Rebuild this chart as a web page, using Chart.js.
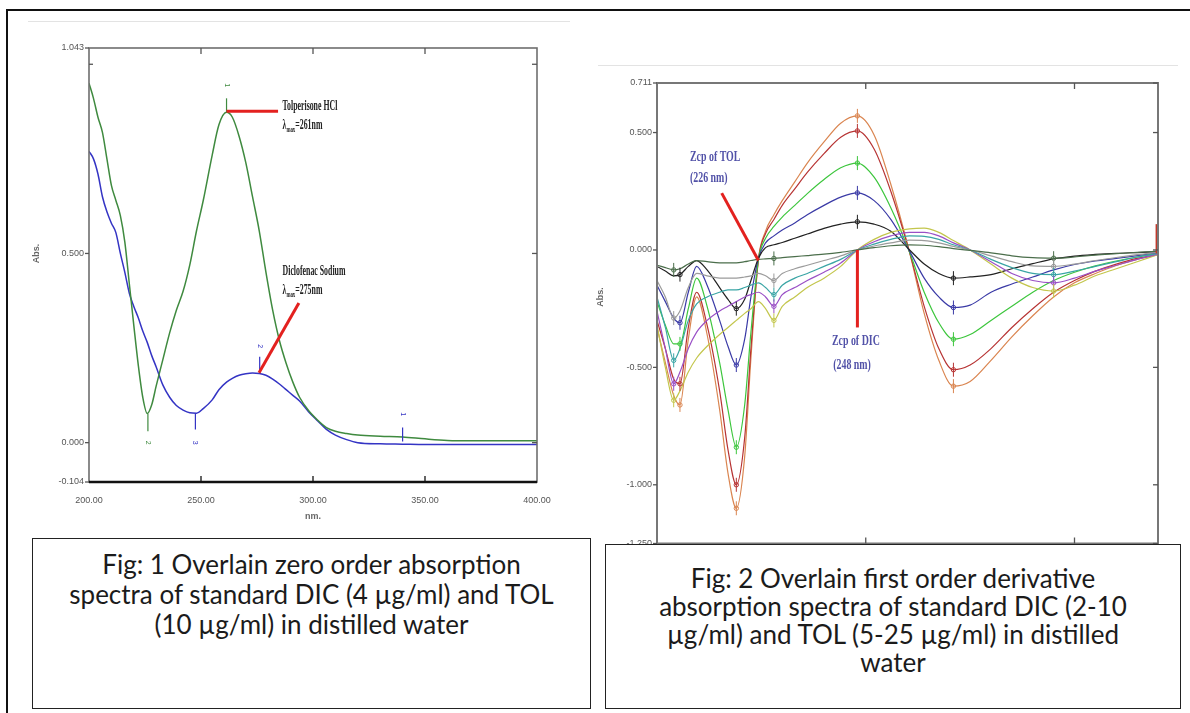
<!DOCTYPE html>
<html>
<head>
<meta charset="utf-8">
<script src="https://cdn.jsdelivr.net/npm/chart.js@4.4.1/dist/chart.umd.min.js"></script>
<style>
  html, body { margin: 0; padding: 0; background: #fff; }
  body { width: 1190px; height: 713px; position: relative; overflow: hidden; }
  #frame { position: absolute; left: 6px; top: 9px; width: 1200px; height: 720px; border-left: 2px solid #111; border-top: 2px solid #111; }
  .rule { position: absolute; height: 1px; background: #e3e3e3; }
  canvas { position: absolute; }
  .cap { position: absolute; background: #fff; border: 1.5px solid #222; box-sizing: border-box; text-align: center;
         color: #1b1b1b; font-family: Lato, "Noto Sans", sans-serif; font-size: 26px; }
</style>
</head>
<body>
<div id="frame"></div>
<div class="rule" style="left:28px;top:21px;width:542px"></div>
<div class="rule" style="left:598px;top:65px;width:580px"></div>
<canvas id="c1" width="590" height="530" style="left:0;top:0"></canvas>
<canvas id="c2" width="600" height="560" style="left:590px;top:0"></canvas>
<div class="cap" style="left:32px;top:538px;width:559px;height:171px;padding-top:10px;line-height:30px">Fig: 1 Overlain zero order absorption<br>spectra of standard DIC (4 µg/ml) and TOL<br>(10 µg/ml) in distilled water</div>
<div class="cap" style="left:605px;top:544px;width:576px;height:165px;padding-top:19px;line-height:28px">Fig: 2 Overlain first order derivative<br>absorption spectra of standard DIC (2-10<br>µg/ml) and TOL (5-25 µg/ml) in distilled<br>water</div>

<script>
// ---- Fig 1: zero order spectra (nm vs Abs.)
const nm1 = [200, 202, 204, 206, 208, 210, 212, 214, 216, 218, 220, 222, 224, 226,
  228, 230, 233, 236, 239, 242, 245, 248, 251, 255, 258, 261.4,
  264, 267, 270, 273, 276, 279, 282, 285, 288, 291,
  294, 298, 302, 306, 310, 315, 320,
  330, 340, 350, 360, 370, 380, 390, 400];
const tolAbs = [0.95, 0.91, 0.86, 0.82, 0.75, 0.68, 0.64, 0.6, 0.53, 0.42, 0.31, 0.205, 0.12, 0.077,
  0.1, 0.15, 0.22, 0.29, 0.35, 0.4, 0.47, 0.56, 0.64, 0.76, 0.84, 0.873,
  0.86, 0.81, 0.74, 0.65, 0.56, 0.45, 0.35, 0.27, 0.21, 0.16,
  0.12, 0.085, 0.06, 0.04, 0.03, 0.024, 0.02,
  0.017, 0.015, 0.01, 0.006, 0.005, 0.005, 0.005, 0.005];
const dicAbs = [0.77, 0.75, 0.71, 0.65, 0.61, 0.58, 0.555, 0.5, 0.45, 0.395, 0.36, 0.33, 0.295, 0.265,
  0.23, 0.2, 0.152, 0.12, 0.098, 0.086, 0.079, 0.078, 0.09, 0.113, 0.14, 0.16,
  0.17, 0.178, 0.182, 0.184, 0.183, 0.178, 0.168, 0.155, 0.14, 0.125,
  0.11, 0.082, 0.058, 0.035, 0.02, 0.008, 0.0,
  -0.003, -0.004, -0.005, -0.005, -0.005, -0.005, -0.005, -0.005];
const xTicks1 = [200, 250, 300, 350, 400];
const yTicks1 = [-0.104, 0, 0.5, 1.043];

// peak pick marks on fig 1
const markNm1 = [261.4, 226.3, 247.5, 276.2, 340];
const markFrom1 = [0.873, 0.076, 0.078, 0.183, 0.003];
const markTo1 = [0.91, 0.03, 0.035, 0.227, 0.04];
const markText1 = ['1', '2', '3', '2', '1'];
const markTextY1 = [0.945, 0.0, 0.0, 0.255, 0.075];
const markSeries1 = [0, 0, 1, 1, 1];

// ---- Fig 2: first derivative spectra
const nm2 = [200, 202, 204, 205.5, 207.5, 209.5, 212, 215, 217, 219, 221, 222.5,
  224.3, 226, 228, 230, 233, 236, 240, 244, 248, 252, 256, 260.5,
  264, 267.5, 271, 275, 280, 285, 290, 295, 300, 305, 310, 315, 320];
const tol5 = [-0.07, -0.09, -0.11, -0.105, -0.07, -0.045, -0.085, -0.16, -0.21, -0.25, -0.21, -0.13,
  -0.035, 0.01, 0.022, 0.032, 0.05, 0.068, 0.092, 0.11, 0.12, 0.11, 0.08, 0.0,
  -0.06, -0.1, -0.12, -0.115, -0.105, -0.08, -0.058, -0.038, -0.026, -0.019, -0.014, -0.011, -0.008];
const tol10 = [-0.15, -0.22, -0.29, -0.31, -0.18, -0.07, -0.15, -0.3, -0.41, -0.49, -0.38, -0.2,
  -0.035, 0.03, 0.06, 0.085, 0.115, 0.15, 0.19, 0.225, 0.243, 0.21, 0.13, -0.005,
  -0.12, -0.2, -0.245, -0.235, -0.18, -0.145, -0.115, -0.085, -0.062, -0.047, -0.036, -0.024, -0.012];
const tol15 = [-0.22, -0.32, -0.4, -0.4, -0.25, -0.12, -0.24, -0.48, -0.68, -0.84, -0.66, -0.35,
  -0.04, 0.05, 0.1, 0.14, 0.19, 0.24, 0.3, 0.35, 0.37, 0.31, 0.18, -0.01,
  -0.18, -0.31, -0.38, -0.36, -0.3, -0.24, -0.18, -0.13, -0.095, -0.068, -0.047, -0.03, -0.015];
const tol20 = [-0.3, -0.42, -0.55, -0.57, -0.33, -0.18, -0.32, -0.6, -0.85, -1.0, -0.8, -0.42,
  -0.04, 0.07, 0.13, 0.19, 0.26, 0.33, 0.41, 0.48, 0.507, 0.43, 0.25, -0.01,
  -0.24, -0.42, -0.51, -0.49, -0.42, -0.33, -0.25, -0.18, -0.13, -0.09, -0.06, -0.036, -0.02];
const tol25 = [-0.33, -0.48, -0.62, -0.66, -0.38, -0.2, -0.36, -0.68, -0.95, -1.1, -0.88, -0.46,
  -0.04, 0.08, 0.15, 0.21, 0.29, 0.37, 0.46, 0.54, 0.571, 0.49, 0.28, -0.01,
  -0.27, -0.47, -0.58, -0.56, -0.47, -0.37, -0.28, -0.2, -0.14, -0.1, -0.066, -0.04, -0.02];
const dic2 = [-0.065, -0.075, -0.085, -0.08, -0.06, -0.045, -0.05, -0.055, -0.055, -0.055, -0.05, -0.045,
  -0.04, -0.038, -0.036, -0.033, -0.028, -0.024, -0.018, -0.01, 0.0, 0.01, 0.018, 0.022,
  0.02, 0.014, 0.006, -0.002, -0.012, -0.025, -0.033, -0.035, -0.03, -0.022, -0.016, -0.01, -0.005];
const dic4 = [-0.13, -0.2, -0.29, -0.26, -0.16, -0.1, -0.11, -0.12, -0.12, -0.12, -0.115, -0.11,
  -0.1, -0.11, -0.13, -0.1, -0.08, -0.065, -0.045, -0.025, 0.0, 0.017, 0.03, 0.042,
  0.04, 0.03, 0.015, 0.0, -0.025, -0.05, -0.068, -0.07, -0.06, -0.045, -0.032, -0.02, -0.01];
const dic6 = [-0.2, -0.33, -0.47, -0.42, -0.3, -0.23, -0.2, -0.18, -0.17, -0.17, -0.16, -0.15,
  -0.14, -0.16, -0.19, -0.15, -0.12, -0.1, -0.07, -0.04, 0.0, 0.025, 0.045, 0.06,
  0.058, 0.045, 0.022, 0.0, -0.04, -0.075, -0.1, -0.105, -0.09, -0.07, -0.05, -0.03, -0.015];
const dic8 = [-0.26, -0.42, -0.57, -0.52, -0.42, -0.35, -0.3, -0.26, -0.24, -0.22, -0.2, -0.19,
  -0.18, -0.2, -0.24, -0.19, -0.16, -0.13, -0.095, -0.055, 0.0, 0.035, 0.06, 0.075,
  0.075, 0.06, 0.03, 0.0, -0.05, -0.1, -0.13, -0.14, -0.12, -0.09, -0.065, -0.04, -0.018];
const dic10 = [-0.32, -0.5, -0.64, -0.6, -0.52, -0.46, -0.41, -0.36, -0.33, -0.3, -0.27, -0.25,
  -0.22, -0.25, -0.3, -0.24, -0.2, -0.16, -0.12, -0.07, 0.0, 0.045, 0.075, 0.09,
  0.093, 0.075, 0.04, 0.0, -0.06, -0.12, -0.16, -0.175, -0.15, -0.11, -0.08, -0.05, -0.02];
const xTicks2 = [200, 250, 300, 320];
const yTicks2 = [-1.25, -1, -0.5, 0, 0.5, 0.711];
const tolMarkIdx = [3, 9, 20, 26];
const dicMarkIdx = [2, 14, 31];
// end-of-scan spike at the right edge
const spikeNm = 319.6, spikeFrom = -0.015, spikeTo = 0.11;

const pts = (xs, ys) => xs.map((x, i) => ({ x: x, y: ys[i] }));
const tickFont = { family: '"Liberation Sans", Arial, sans-serif', size: 9 };

function seg(ctx, x1, y1, x2, y2) {
  ctx.beginPath(); ctx.moveTo(x1, y1); ctx.lineTo(x2, y2); ctx.stroke();
}
function serifText(ctx, str, x, y, size, color, sx) {
  ctx.save();
  ctx.translate(x, y);
  ctx.scale(sx, 1);
  ctx.font = 'bold ' + size + 'px "Liberation Serif", serif';
  ctx.fillStyle = color;
  ctx.textBaseline = 'middle';
  ctx.fillText(str, 0, 0);
  const w = ctx.measureText(str).width * sx;
  ctx.restore();
  return w;
}
function lambdaText(ctx, tail, x, y, size, color, sx) {
  let w = serifText(ctx, 'λ', x, y, size, color, sx);
  w += serifText(ctx, 'max', x + w, y + size * 0.28, size * 0.62, color, sx);
  serifText(ctx, tail, x + w, y, size, color, sx);
}
function rotText(ctx, str, x, y, color) {
  ctx.save();
  ctx.translate(x, y);
  ctx.rotate(Math.PI / 2);
  ctx.font = '7px "Liberation Sans", sans-serif';
  ctx.fillStyle = color;
  ctx.textAlign = 'center';
  ctx.textBaseline = 'middle';
  ctx.fillText(str, 0, 0);
  ctx.restore();
}
function axisTitle(ctx, str, x, y, rot) {
  ctx.save();
  ctx.translate(x, y);
  if (rot) ctx.rotate(-Math.PI / 2);
  ctx.font = 'bold 9px "Liberation Sans", sans-serif';
  ctx.fillStyle = '#666';
  ctx.textAlign = 'center';
  ctx.textBaseline = 'middle';
  ctx.fillText(str, 0, 0);
  ctx.restore();
}

const colors1 = ['#3f8a3f', '#3434c4'];

const fig1Deco = {
  id: 'fig1Deco',
  afterDatasetsDraw(chart) {
    const { ctx, chartArea: a, scales: { x, y } } = chart;
    ctx.save();
    // frame
    ctx.strokeStyle = '#6e6e6e'; ctx.lineWidth = 1.6;
    ctx.strokeRect(a.left, a.top, a.right - a.left, a.bottom - a.top);
    ctx.strokeStyle = '#111'; ctx.lineWidth = 2.6;
    seg(ctx, a.left, a.bottom, a.right, a.bottom);
    ctx.lineWidth = 1.3;
    xTicks1.slice(1, -1).forEach(v => {
      const px = x.getPixelForValue(v);
      ctx.strokeStyle = '#111'; seg(ctx, px, a.bottom, px, a.bottom - 6);
      ctx.strokeStyle = '#555'; seg(ctx, px, a.top, px, a.top + 6);
    });
    ctx.strokeStyle = '#555';
    yTicks1.forEach(v => { const py = y.getPixelForValue(v); seg(ctx, a.left - 4, py, a.left, py); });
    [0, 0.5, 1.0].forEach(v => {
      const py = y.getPixelForValue(v);
      seg(ctx, a.right - 5, py, a.right, py);
      if (v === 1.0) seg(ctx, a.left, py, a.left + 4, py);
    });
    // peak pick marks
    markNm1.forEach((n, i) => {
      const c = colors1[markSeries1[i]];
      const px = x.getPixelForValue(n);
      ctx.strokeStyle = c; ctx.lineWidth = 1.2;
      seg(ctx, px, y.getPixelForValue(markFrom1[i]), px, y.getPixelForValue(markTo1[i]));
      rotText(ctx, markText1[i], px, y.getPixelForValue(markTextY1[i]), c);
    });
    // red pointers
    ctx.strokeStyle = '#e3211f'; ctx.lineWidth = 3;
    seg(ctx, x.getPixelForValue(261.4), y.getPixelForValue(0.876), x.getPixelForValue(284.4), y.getPixelForValue(0.876));
    seg(ctx, x.getPixelForValue(293.7), y.getPixelForValue(0.369), x.getPixelForValue(275.9), y.getPixelForValue(0.185));
    const lx = x.getPixelForValue(286.4);
    serifText(ctx, 'Tolperisone HCl', lx, y.getPixelForValue(0.889), 14, '#222', 0.56);
    lambdaText(ctx, '=261nm', lx, y.getPixelForValue(0.838), 14, '#222', 0.56);
    serifText(ctx, 'Diclofenac Sodium', lx, y.getPixelForValue(0.453), 14, '#222', 0.56);
    lambdaText(ctx, '=275nm', lx, y.getPixelForValue(0.402), 14, '#222', 0.56);
    axisTitle(ctx, 'Abs.', 37, y.getPixelForValue(0.5), true);
    axisTitle(ctx, 'nm.', x.getPixelForValue(300), 517, false);
    ctx.restore();
  }
};

new Chart(document.getElementById('c1'), {
  type: 'line',
  data: {
    datasets: [
      { label: 'Tolperisone HCl', data: pts(nm1, tolAbs), borderColor: colors1[0] },
      { label: 'Diclofenac Sodium', data: pts(nm1, dicAbs), borderColor: colors1[1] }
    ]
  },
  options: {
    responsive: false, animation: false, devicePixelRatio: 1,
    layout: { padding: { left: 29, right: 53, top: 48, bottom: 8 } },
    elements: { point: { radius: 0 }, line: { borderWidth: 1.5, cubicInterpolationMode: 'monotone' } },
    plugins: { legend: { display: false }, tooltip: { enabled: false } },
    scales: {
      x: {
        type: 'linear', min: 200, max: 400,
        afterBuildTicks: s => { s.ticks = xTicks1.map(v => ({ value: v })); },
        afterFit: s => { s.height = 40; },
        ticks: { callback: v => v.toFixed(2), font: tickFont, color: '#555', padding: 13, autoSkip: false, maxRotation: 0 },
        grid: { display: false, drawTicks: false }, border: { display: false }
      },
      y: {
        min: -0.104, max: 1.043,
        afterBuildTicks: s => { s.ticks = yTicks1.map(v => ({ value: v })); },
        afterFit: s => { s.width = 60; },
        ticks: { callback: v => v.toFixed(3), font: tickFont, color: '#555', padding: 5, autoSkip: false },
        grid: { display: false, drawTicks: false }, border: { display: false }
      }
    }
  },
  plugins: [fig1Deco]
});

// ---- Fig 2
const series2 = [
  { name: 'DIC 2', vals: dic2, color: '#4b6e4b', tol: false },
  { name: 'DIC 4', vals: dic4, color: '#9b9b9b', tol: false },
  { name: 'DIC 6', vals: dic6, color: '#3aa5a5', tol: false },
  { name: 'DIC 8', vals: dic8, color: '#9a50c6', tol: false },
  { name: 'DIC 10', vals: dic10, color: '#c3c64c', tol: false },
  { name: 'TOL 5', vals: tol5, color: '#222222', tol: true },
  { name: 'TOL 10', vals: tol10, color: '#3a3aa6', tol: true },
  { name: 'TOL 15', vals: tol15, color: '#3dc63d', tol: true },
  { name: 'TOL 20', vals: tol20, color: '#b73434', tol: true },
  { name: 'TOL 25', vals: tol25, color: '#da8550', tol: true }
];

const fig2Deco = {
  id: 'fig2Deco',
  afterDatasetsDraw(chart) {
    const { ctx, chartArea: a, scales: { x, y } } = chart;
    ctx.save();
    // small peak-pick marks on the curves
    series2.forEach(s => {
      ctx.strokeStyle = s.color; ctx.lineWidth = 1;
      (s.tol ? tolMarkIdx : dicMarkIdx).forEach(i => {
        const px = x.getPixelForValue(nm2[i]), py = y.getPixelForValue(s.vals[i]);
        seg(ctx, px, py - 7, px, py + 7);
        ctx.beginPath(); ctx.arc(px, py, 2.2, 0, Math.PI * 2); ctx.stroke();
      });
    });
    ctx.lineWidth = 1.5;
    ctx.strokeStyle = '#c0392b';
    seg(ctx, x.getPixelForValue(spikeNm), y.getPixelForValue(spikeFrom), x.getPixelForValue(spikeNm), y.getPixelForValue(spikeTo));
    // frame
    ctx.strokeStyle = '#777'; ctx.lineWidth = 2;
    ctx.strokeRect(a.left, a.top, a.right - a.left, a.bottom - a.top);
    ctx.lineWidth = 1.3; ctx.strokeStyle = '#555';
    [250, 300].forEach(v => {
      const px = x.getPixelForValue(v);
      seg(ctx, px, a.top, px, a.top + 6);
      seg(ctx, px, a.bottom, px, a.bottom - 6);
    });
    yTicks2.forEach(v => {
      const py = y.getPixelForValue(v);
      seg(ctx, a.left - 4, py, a.left, py);
      seg(ctx, a.right - 5, py, a.right, py);
    });
    // zero crossing pointers
    ctx.strokeStyle = '#e3211f'; ctx.lineWidth = 3;
    seg(ctx, x.getPixelForValue(215.5), y.getPixelForValue(0.242), x.getPixelForValue(224.3), y.getPixelForValue(-0.045));
    seg(ctx, x.getPixelForValue(248), y.getPixelForValue(0.0), x.getPixelForValue(248), y.getPixelForValue(-0.33));
    const ink = '#5252a8';
    serifText(ctx, 'Zcp of TOL', x.getPixelForValue(207.9), y.getPixelForValue(0.395), 15, ink, 0.66);
    serifText(ctx, '(226 nm)', x.getPixelForValue(207.9), y.getPixelForValue(0.305), 15, ink, 0.66);
    serifText(ctx, 'Zcp of DIC', x.getPixelForValue(241.9), y.getPixelForValue(-0.39), 15, ink, 0.66);
    serifText(ctx, '(248 nm)', x.getPixelForValue(242.2), y.getPixelForValue(-0.49), 15, ink, 0.66);
    axisTitle(ctx, 'Abs.', 11, y.getPixelForValue(-0.2), true);
    ctx.restore();
  }
};

new Chart(document.getElementById('c2'), {
  type: 'line',
  data: {
    datasets: series2.map(s => ({ label: s.name, data: pts(nm2, s.vals), borderColor: s.color }))
  },
  options: {
    responsive: false, animation: false, devicePixelRatio: 1,
    layout: { padding: { left: 17, right: 32, top: 83, bottom: 16.5 } },
    elements: { point: { radius: 0 }, line: { borderWidth: 1.2, cubicInterpolationMode: 'monotone' } },
    plugins: { legend: { display: false }, tooltip: { enabled: false } },
    scales: {
      x: {
        type: 'linear', min: 200, max: 320,
        afterBuildTicks: s => { s.ticks = xTicks2.map(v => ({ value: v })); },
        afterFit: s => { s.height = 0; },
        ticks: { display: false },
        grid: { display: false, drawTicks: false }, border: { display: false }
      },
      y: {
        min: -1.25, max: 0.711,
        afterBuildTicks: s => { s.ticks = yTicks2.map(v => ({ value: v })); },
        afterFit: s => { s.width = 50; },
        ticks: { callback: v => v.toFixed(3), font: tickFont, color: '#555', padding: 5, autoSkip: false },
        grid: { display: false, drawTicks: false }, border: { display: false }
      }
    }
  },
  plugins: [fig2Deco]
});
</script>
</body>
</html>
